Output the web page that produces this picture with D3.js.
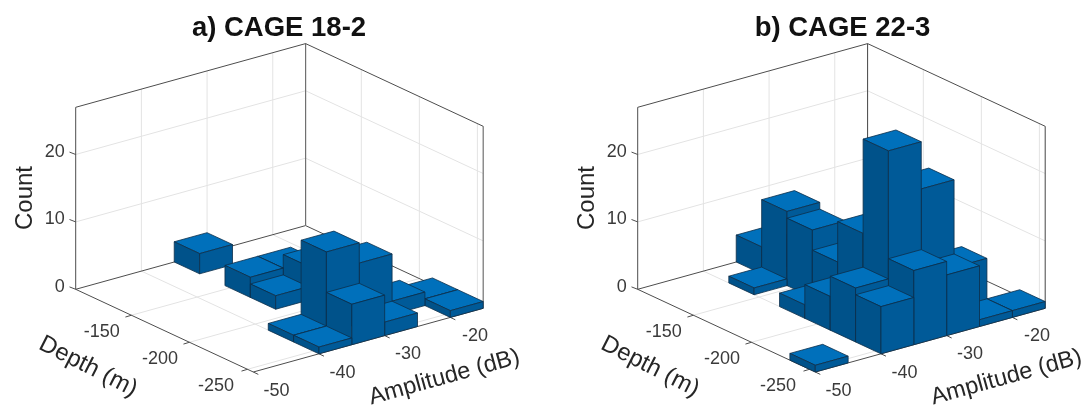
<!DOCTYPE html>
<html>
<head>
<meta charset="utf-8">
<script src="https://cdn.jsdelivr.net/npm/d3@7/dist/d3.min.js"></script>
<style>
html,body{margin:0;padding:0;background:#fff;overflow:hidden}
svg{display:block;filter:blur(0.45px)}
text{font-family:"Liberation Sans",Arial,Helvetica,sans-serif}
</style>
</head>
<body>
<script>
// Bin edges
const amplitudeEdges = [-50,-45,-40,-35,-30,-25,-20,-15];
const depthEdges = [-255,-233.1,-211.3,-189.4,-167.6,-145.7,-123.9,-102];
// Tick labels
const amplitudeTicks = [-50,-40,-30,-20];
const depthTicks = [-150,-200,-250];
const countTicks = [0,10,20];
// Counts: each row is one depth bin (deepest first), each column one amplitude bin
const countsA = [
  [0,0,1,6,2,0,1],
  [0,0,1,12,9,2,1],
  [0,0,0,0,0,0,0],
  [0,0,0,2,5,0,0],
  [0,0,0,3,3,0,0],
  [0,0,0,0,0,0,0],
  [0,0,0,3,0,0,0]
];
const countsB = [
  [1,0,7,11,9,1,1],
  [0,0,8,27,20,7,0],
  [0,0,5,13,0,0,0],
  [0,0,2,7,0,0,0],
  [0,0,0,10,0,0,0],
  [0,0,1,11,0,0,0],
  [0,0,0,4,0,0,0]
];
const titles = ["a) CAGE 18-2","b) CAGE 22-3"];
const axisLabels = {depth:"Depth (m)",amplitude:"Amplitude (dB)",count:"Count"};

const W=1088,H=406;
const svg=d3.select("body").append("svg").attr("width",W).attr("height",H).attr("viewBox",[0,0,W,H]);

// Projected box of the axes (panel a); panel b is the same box shifted
const C={front:[253.3,372],left:[75.7,289.3],right:[483.2,308.3],height:182};
const ampScale=d3.scaleLinear().domain([-50,-15]).range([0,1]);
const depthScale=d3.scaleLinear().domain([-255,-102]).range([0,1]);
const zScale=d3.scaleLinear().domain([0,27]).range([0,C.height]);
const line=d3.line();

function panel(counts,title,dx,backCol,backW,titleX){
  const g=svg.append("g").attr("transform",`translate(${dx},0)`);
  const P=(a,d,z)=>{
    const u=ampScale(a),v=depthScale(d);
    return [C.front[0]+u*(C.right[0]-C.front[0])+v*(C.left[0]-C.front[0]),
            C.front[1]+u*(C.right[1]-C.front[1])+v*(C.left[1]-C.front[1])-zScale(z||0)];
  };
  const aMin=-50,aMax=-15,dMin=-255,dMax=-102,zMax=27;
  const seg=(p,q,col,w)=>g.append("path").attr("d",line([p,q])).attr("fill","none").attr("stroke",col).attr("stroke-width",w);
  const gridCol="#e3e3e3";
  // grid lines
  amplitudeTicks.filter(t=>t>aMin).forEach(t=>{
    seg(P(t,dMin),P(t,dMax),gridCol,1);
    seg(P(t,dMax),P(t,dMax,zMax),gridCol,1);
  });
  depthTicks.forEach(t=>{
    seg(P(aMin,t),P(aMax,t),gridCol,1);
    seg(P(aMax,t),P(aMax,t,zMax),gridCol,1);
  });
  countTicks.filter(t=>t>0).forEach(t=>{
    seg(P(aMin,dMax,t),P(aMax,dMax,t),gridCol,1);
    seg(P(aMax,dMax,t),P(aMax,dMin,t),gridCol,1);
  });
  // axes box
  const ax="#4d4d4d";
  seg(P(aMin,dMax),P(aMax,dMax),ax,1);
  seg(P(aMax,dMax),P(aMax,dMin),ax,1);
  seg(P(aMin,dMax),P(aMin,dMin),ax,1);
  seg(P(aMin,dMin),P(aMax,dMin),ax,1);
  seg(P(aMin,dMax),P(aMin,dMax,zMax),ax,1);
  seg(P(aMax,dMax),P(aMax,dMax,zMax),backCol,backW);
  seg(P(aMax,dMin),P(aMax,dMin,zMax),backCol,backW);
  seg(P(aMin,dMax,zMax),P(aMax,dMax,zMax),ax,1);
  seg(P(aMax,dMax,zMax),P(aMax,dMin,zMax),ax,1);
  // ticks
  amplitudeTicks.forEach(t=>{const p=P(t,dMin);seg(p,[p[0]+5,p[1]+2.4],ax,1);});
  depthTicks.forEach(t=>{const p=P(aMin,t);seg(p,[p[0]-6,p[1]+1.8],ax,1);});
  countTicks.forEach(t=>{const p=P(aMin,dMax,t);seg(p,[p[0]-6.2,p[1]-2.4],ax,1);});

  // bars, painted from the far corner to the near corner
  const cells=[];
  counts.forEach((row,j)=>row.forEach((c,i)=>{if(c>0)cells.push({i,j,c});}));
  cells.sort((a,b)=>(b.i+b.j)-(a.i+a.j));
  const faces=[
    {col:"#0070BB",pts:c=>[[1,0],[1,1],[0,1],[0,0]].map(o=>[c.i+o[0],c.j+o[1],c.c])},
    {col:"#00528A",pts:c=>[[c.i,c.j,c.c],[c.i,c.j+1,c.c],[c.i,c.j+1,0],[c.i,c.j,0]]},
    {col:"#005A98",pts:c=>[[c.i,c.j,c.c],[c.i+1,c.j,c.c],[c.i+1,c.j,0],[c.i,c.j,0]]}
  ];
  const bars=g.selectAll("g.bar").data(cells).join("g").attr("class","bar");
  faces.forEach(f=>{
    bars.append("path")
      .attr("d",c=>line(f.pts(c).map(q=>P(amplitudeEdges[q[0]],depthEdges[q[1]],q[2])))+"Z")
      .attr("fill",f.col).attr("stroke","#0d2f4a").attr("stroke-width",0.8).attr("stroke-linejoin","round");
  });

  // text
  const tickCol="#3a3a3a";
  const label=(x,y,s,fs)=>g.append("text").attr("x",x).attr("y",y).attr("text-anchor","middle").attr("dominant-baseline","central")
     .attr("font-size",fs).attr("fill",tickCol).text(s);
  const ampPos={"-50":[276.5,389.5],"-40":[342.5,372],"-30":[408,353],"-20":[475,335]};
  amplitudeTicks.forEach(t=>label(ampPos[t][0],ampPos[t][1],t,18));
  const depPos={"-150":[101.7,331],"-200":[160,358],"-250":[216,385]};
  depthTicks.forEach(t=>label(depPos[t][0],depPos[t][1],t,18));
  countTicks.forEach(t=>{
    const p=P(aMin,dMax,t);
    g.append("text").attr("x",p[0]-11).attr("y",p[1]-3.5).attr("text-anchor","end").attr("dominant-baseline","central")
     .attr("font-size",18).attr("fill",tickCol).text(t);
  });
  const rot=(x,y,a,s,fs)=>g.append("text").attr("transform",`translate(${x},${y}) rotate(${a})`)
     .attr("text-anchor","middle").attr("dominant-baseline","central").attr("font-size",fs).attr("fill","#262626").text(s);
  rot(23,198,-90,axisLabels.count,24);
  rot(89,365,27,axisLabels.depth,24);
  rot(444,376,-15.5,axisLabels.amplitude,23.5);
  g.append("text").attr("x",titleX).attr("y",36).attr("text-anchor","middle")
    .attr("font-size",27.5).attr("font-weight","bold").attr("fill","#111").text(title);
}
panel(countsA,titles[0],0,"#707070",1.2,279);
panel(countsB,titles[1],562,"#444",1,280.5);
</script>
</body>
</html>
